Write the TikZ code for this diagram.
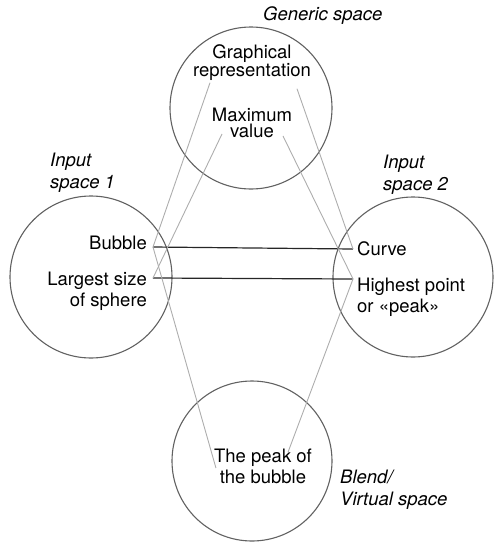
\documentclass[tikz,border=0pt]{standalone}
\usepackage{fontspec}
\setmainfont{TeX Gyre Heros}
\usetikzlibrary{calc}
\definecolor{ringgray}{gray}{0.38}
\definecolor{mapgray}{gray}{0.68}

\begin{document}
\begin{tikzpicture}[x=1pt, y=-1pt, every node/.style={inner sep=0pt, font=\fontsize{18.5}{21}\selectfont}, space/.style={draw=ringgray, line width=1.1pt}, tight/.style={font=\fontsize{18.5}{16.5}\selectfont}, tag/.style={font=\fontsize{18.5}{22}\selectfont\itshape, align=left, anchor=base west}, link/.style={black!85, line width=1.2pt}, map/.style={mapgray, line width=0.9pt}]
        \useasboundingbox (0,0) rectangle (494,542);
        \draw[space] (251,108) circle[radius=81pt];
        \draw[space] (91,277) circle[radius=81pt];
        \draw[space] (413,277) circle[radius=80pt];
        \draw[space] (252,461) circle[radius=80pt];
        % base of a multi-line node sits on its last line
        \node[anchor=base, align=center, tight] (graph) at (252,76.5) {Graphical\\representation};
        \node[anchor=base, align=center, tight] (maxval) at (252,137.5) {Maximum\\value};
        \node[anchor=base east] (bubble) at (147,249) {Bubble};
        \node[anchor=base east, align=right] (largest) at (147,306) {Largest size\\of sphere};
        \node[anchor=base west] (curve) at (357,255) {Curve};
        \node[anchor=base west, align=left] (highest) at (357,312) {Highest point\\or «peak»};
        \node[anchor=base, align=center] (peak) at (263,483) {The peak of\\the bubble};
        \node[tag] (generic) at (263,20) {Generic space};
        \node[tag] (input1) at (50,188) {Input\\space 1};
        \node[tag] (input2) at (383,190) {Input\\space 2};
        \node[tag] (blend) at (340,505) {Blend/\\Virtual space};
        \coordinate (bubble-r) at ($(bubble.base east)+(6,-2)$);
        \coordinate (largest-r) at ($(largest.base east)+(6,-28)$);
        \coordinate (curve-l) at ($(curve.base west)+(-4,-6)$);
        \coordinate (highest-l) at ($(highest.base west)+(-4,-33)$);
        \draw[link] (bubble-r) -- (curve-l);
        \draw[link] (largest-r) -- (highest-l);
        \draw[map] ($(graph.south)+(-42,2)$) -- (bubble-r);
        \draw[map] ($(graph.south)+(45,8)$) -- (curve-l);
        \draw[map] ($(maxval.south)+(-30,-4)$) -- (largest-r);
        \draw[map] ($(maxval.south)+(31,-2)$) -- (highest-l);
        \draw[map] (bubble-r) -- ($(peak.base west)+(2,-15)$);
        \draw[map] (highest-l) -- ($(peak.north)+(25,4)$);
    \end{tikzpicture}
\end{document}
